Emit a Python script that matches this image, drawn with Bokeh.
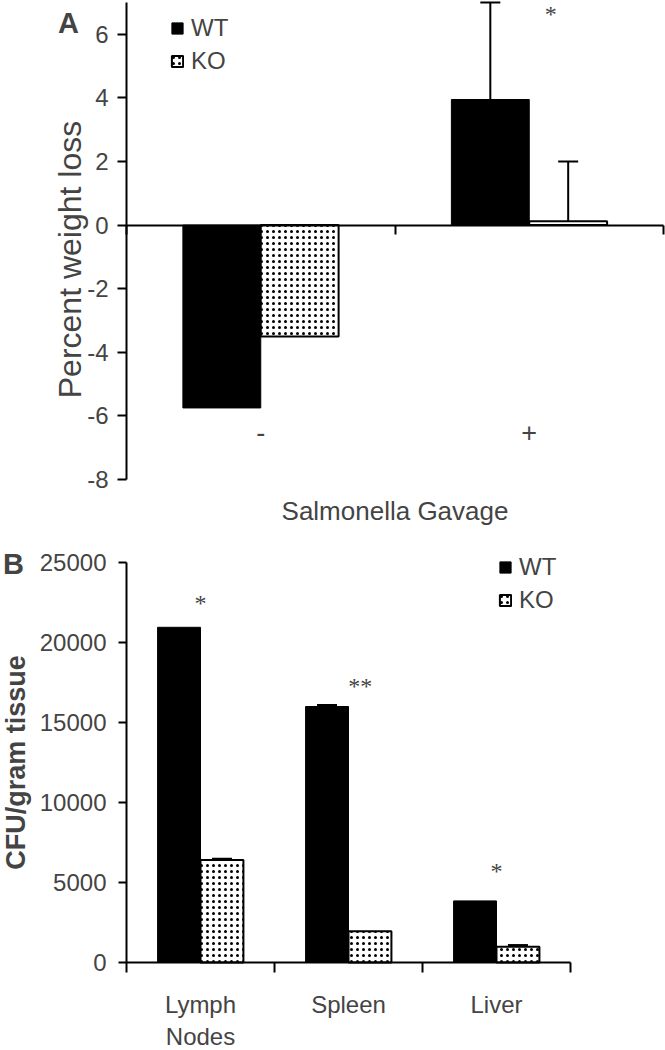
import math
from bokeh.plotting import figure
from bokeh.models import (ColumnDataSource, FixedTicker, LinearAxis, Range1d, Whisker,
                          TeeHead, Legend, LegendItem, Label, LabelSet)
from bokeh.embed import file_html
from bokeh.resources import INLINE

FONT = "Liberation Sans"

# ---------------- Panel A data ----------------
a_groups = ["-", "+"]
a_wt = [-5.75, 3.95]
a_ko = [-3.5, 0.12]
a_wt_err = [0.0, 3.05]
a_ko_err = [0.0, 1.88]
a_ticks = [-8, -6, -4, -2, 0, 2, 4, 6]
a_tick_labels = ["-8", "-6", "-4", "-2", "0", "2", "4", "6"]
a_star_x = [1.58]
a_star_y = [7.05]
a_star_text = ["*"]

# ---------------- Panel B data ----------------
b_tissues = ["Lymph\nNodes", "Spleen", "Liver"]
b_wt = [20950, 16000, 3850]
b_ko = [6400, 1950, 980]
b_wt_err = [0, 100, 0]
b_ko_err = [80, 0, 110]
b_ticks = [0, 5000, 10000, 15000, 20000, 25000]
b_star_x = [0.5, 1.58, 2.5]
b_star_y = [22000, 16810, 5250]
b_star_text = ["*", "**", "*"]

BW = 0.29
HALF = BW / 2

# ---- layout (canvas pixels) ----
A_W, A_H = 665, 544
A_X0, A_X2 = 126, 663          # canvas x of data x = 0 and x = 2
A_YTOP, A_YBOT = 2, 479        # canvas y (from top) of data y = 7 and y = -8
B_W, B_H = 665, 505
B_X0, B_X3 = 126, 570          # canvas x of data x = 0 and x = 3
B_YTOP, B_YBOT = 18, 418       # canvas y (from top) of 25000 and 0


def style_common(p):
    p.outline_line_color = None
    p.background_fill_color = "white"
    p.border_fill_color = "white"
    p.xgrid.visible = False
    p.ygrid.visible = False


def bars(p, n, wt, ko, wt_err, ko_err):
    xw = [i + 0.5 - HALF for i in range(n)]
    xk = [i + 0.5 + HALF for i in range(n)]
    r_wt = p.vbar(x=xw, top=wt, bottom=0, width=BW, fill_color="black",
                  line_color="black", line_width=1)
    r_ko = p.vbar(x=xk, top=ko, bottom=0, width=BW, fill_color="white",
                  line_color="black", line_width=2, hatch_pattern="dot",
                  hatch_scale=6, hatch_weight=1.5, hatch_color="black")
    for xs, vals, errs in ((xw, wt, wt_err), (xk, ko, ko_err)):
        sel = [k for k in range(n) if errs[k] > 0]
        if not sel:
            continue
        src = ColumnDataSource(dict(x=[xs[k] for k in sel],
                                    lower=[vals[k] for k in sel],
                                    upper=[vals[k] + errs[k] for k in sel]))
        w = Whisker(source=src, base="x", lower="lower", upper="upper",
                    dimension="height", line_width=2, line_color="black",
                    lower_head=None,
                    upper_head=TeeHead(size=20, line_width=2, line_color="black"))
        p.add_layout(w)
    return r_wt, r_ko


def make_legend(p, r_wt, r_ko, loc):
    lg = Legend(items=[LegendItem(label="WT", renderers=[r_wt]),
                       LegendItem(label="KO", renderers=[r_ko])],
                location=loc, margin=0, padding=0, spacing=5,
                glyph_width=14, glyph_height=14, label_height=24,
                label_standoff=7, label_text_font=FONT,
                label_text_font_size="24px", border_line_color=None,
                background_fill_alpha=0)
    p.add_layout(lg)


# ================= Panel A =================
a_sx = (A_X2 - A_X0) / 2.0
a_sy = (A_YBOT - A_YTOP) / 15.0
pa = figure(width=A_W, height=A_H, output_backend="svg", toolbar_location=None,
            x_range=Range1d(-A_X0 / a_sx, (A_W - A_X0) / a_sx),
            y_range=Range1d(-8 - (A_H - A_YBOT) / a_sy, 7 + A_YTOP / a_sy),
            x_axis_location=None, y_axis_location=None, min_border=0)
style_common(pa)

ya = LinearAxis(fixed_location=0, bounds=(-8, 7),
                ticker=FixedTicker(ticks=a_ticks),
                major_label_overrides=dict(zip(a_ticks, a_tick_labels)),
                minor_tick_line_color=None, major_tick_out=9, major_tick_in=0,
                major_tick_line_width=2, axis_line_width=2,
                major_label_standoff=9, major_label_text_font=FONT,
                major_label_text_font_size="24px")
pa.add_layout(ya, "left")

# y-axis title
pa.add_layout(Label(x=(69 - A_X0) / a_sx, y=7 - (259 - A_YTOP) / a_sy,
                    text="Percent weight loss", angle=90, angle_units="deg",
                    text_align="center", text_baseline="middle", text_font=FONT,
                    text_font_size="32px"))

# zero line with category-boundary ticks
ax0 = LinearAxis(fixed_location=0, bounds=(0, 2),
                 ticker=FixedTicker(ticks=[], minor_ticks=[0, 1, 2]),
                 axis_line_width=2, minor_tick_out=9, minor_tick_in=0,
                 minor_tick_line_width=2, major_tick_line_color=None,
                 major_label_text_font_size="0px")
pa.add_layout(ax0, "below")

# category labels inside the plot area
axl = LinearAxis(fixed_location=-6.15, bounds=(0, 2),
                 ticker=FixedTicker(ticks=[i + 0.5 for i in range(len(a_groups))]),
                 major_label_overrides={i + 0.5: g for i, g in enumerate(a_groups)},
                 axis_line_color=None, major_tick_line_color=None,
                 minor_tick_line_color=None, major_tick_out=0,
                 major_label_standoff=2, major_label_text_font=FONT,
                 major_label_text_font_size="27px")
pa.add_layout(axl, "below")

# x-axis title
pa.add_layout(Label(x=1.0, y=-8 - (510 - A_YBOT) / a_sy, text="Salmonella Gavage",
                    text_align="center", text_baseline="middle", text_font=FONT,
                    text_font_size="26px"))

ra_wt, ra_ko = bars(pa, len(a_groups), a_wt, a_ko, a_wt_err, a_ko_err)
make_legend(pa, ra_wt, ra_ko, (170, A_H - 75))

sa = ColumnDataSource(dict(x=a_star_x, y=a_star_y, t=a_star_text))
pa.add_layout(LabelSet(source=sa, x="x", y="y", text="t", text_align="center",
                       text_baseline="top", text_font=FONT,
                       text_font_size="24px"))
pa.add_layout(Label(x=68, y=A_H - 22, x_units="screen", y_units="screen", text="A",
                    text_align="center", text_baseline="middle", text_font=FONT,
                    text_font_size="29px", text_font_style="bold"))

# ================= Panel B =================
b_sx = (B_X3 - B_X0) / 3.0
b_sy = (B_YBOT - B_YTOP) / 25000.0
pb = figure(width=B_W, height=B_H, output_backend="svg", toolbar_location=None,
            x_range=Range1d(-B_X0 / b_sx, (B_W - B_X0) / b_sx),
            y_range=Range1d(-(B_H - B_YBOT) / b_sy, 25000 + B_YTOP / b_sy),
            x_axis_location=None, y_axis_location=None, min_border=0)
style_common(pb)

yb = LinearAxis(fixed_location=0, bounds=(0, 25000),
                ticker=FixedTicker(ticks=b_ticks),
                minor_tick_line_color=None, major_tick_out=8, major_tick_in=0,
                major_tick_line_width=2, axis_line_width=2,
                major_label_standoff=12, major_label_text_font=FONT,
                major_label_text_font_size="24px",
                axis_label="CFU/gram tissue", axis_label_text_font=FONT,
                axis_label_text_font_size="27px",
                axis_label_text_font_style="bold", axis_label_standoff=6)
pb.add_layout(yb, "left")

xb = LinearAxis(fixed_location=0, bounds=(0, 3),
                ticker=FixedTicker(ticks=[i + 0.5 for i in range(len(b_tissues))],
                                   minor_ticks=list(range(len(b_tissues) + 1))),
                major_label_overrides={i + 0.5: t for i, t in enumerate(b_tissues)},
                major_tick_out=0, major_tick_in=0, major_tick_line_color=None,
                minor_tick_out=10, minor_tick_in=0, minor_tick_line_width=2,
                axis_line_width=2, major_label_standoff=18,
                major_label_text_font=FONT, major_label_text_font_size="24px")
pb.add_layout(xb, "below")

rb_wt, rb_ko = bars(pb, len(b_tissues), b_wt, b_ko, b_wt_err, b_ko_err)
make_legend(pb, rb_wt, rb_ko, (498, B_H - (614 - 544)))

sb = ColumnDataSource(dict(x=b_star_x, y=b_star_y, t=b_star_text))
pb.add_layout(LabelSet(source=sb, x="x", y="y", text="t", text_align="center",
                       text_baseline="alphabetic", text_font=FONT,
                       text_font_size="24px"))
pb.add_layout(Label(x=13, y=B_H - 19, x_units="screen", y_units="screen", text="B",
                    text_align="center", text_baseline="middle", text_font=FONT,
                    text_font_size="29px", text_font_style="bold"))

open("out.html", "w").write(file_html([pa, pb], INLINE))
